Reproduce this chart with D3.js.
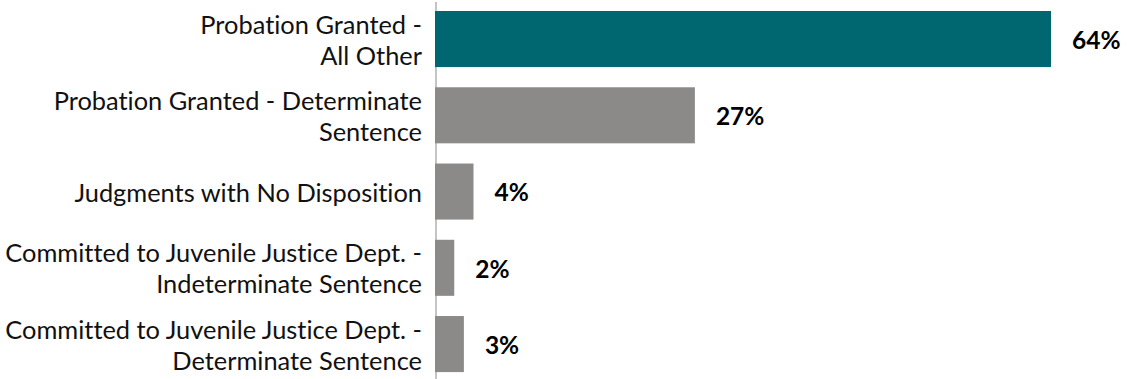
<!DOCTYPE html>
<html>
<head>
<meta charset="utf-8">
<script src="https://cdn.jsdelivr.net/npm/d3@7"></script>
<style>
  html, body { margin: 0; padding: 0; background: #ffffff; }
  svg { display: block; }
  text { font-variant-ligatures: none; font-feature-settings: "liga" 0, "clig" 0, "dlig" 0; }
</style>
</head>
<body>
<svg id="chart" width="1127" height="379"></svg>
<script>
const categories = [
  ["Probation Granted -", "All Other"],
  ["Probation Granted - Determinate", "Sentence"],
  ["Judgments with No Disposition"],
  ["Committed to Juvenile Justice Dept. -", "Indeterminate Sentence"],
  ["Committed to Juvenile Justice Dept. -", "Determinate Sentence"]
];
const values = [64, 27, 4, 2, 3];
const valueLabels = ["64%", "27%", "4%", "2%", "3%"];
const barColors = ["#006670", "#8c8989", "#8c8989", "#8c8989", "#8c8989"];

const width = 1127, height = 379;
const x0 = 435;
const svg = d3.select("#chart");

const x = d3.scaleLinear().domain([0, 64]).range([x0, 1051]);
const y = d3.scaleBand()
  .domain(d3.range(values.length))
  .range([-9.2, 392.3])
  .padding(0.265);

// axis line
svg.append("line")
  .attr("x1", x0 + 1).attr("x2", x0 + 1)
  .attr("y1", 2).attr("y2", height)
  .attr("stroke", "#c4c4c4").attr("stroke-width", 2);

svg.selectAll("rect.bar")
  .data(values)
  .join("rect")
  .attr("class", "bar")
  .attr("x", x(0))
  .attr("y", (d, i) => y(i))
  .attr("width", d => x(d) - x(0))
  .attr("height", y.bandwidth())
  .attr("fill", (d, i) => barColors[i]);

const fontFamily = "Lato, 'Open Sans', sans-serif";
const lineH = 31;

const labels = svg.selectAll("text.cat")
  .data(categories)
  .join("text")
  .attr("class", "cat")
  .attr("text-anchor", "end")
  .attr("font-family", fontFamily)
  .attr("font-size", 25.4)
  .attr("fill", "#111111");

labels.each(function(lines, i) {
  const cy = y(i) + y.bandwidth() / 2;
  const n = lines.length;
  d3.select(this).selectAll("tspan")
    .data(lines)
    .join("tspan")
    .attr("x", 422)
    .attr("y", (l, j) => cy + 1 + (j - (n - 1) / 2) * lineH)
    .attr("dy", "0.36em")
    .text(l => l);
});

svg.selectAll("text.val")
  .data(values)
  .join("text")
  .attr("class", "val")
  .attr("x", d => x(d) + 21)
  .attr("y", (d, i) => y(i) + y.bandwidth() / 2)
  .attr("dy", "0.4em")
  .attr("font-family", fontFamily)
  .attr("font-weight", "bold")
  .attr("font-size", 24.5)
  .attr("fill", "#000000")
  .text((d, i) => valueLabels[i]);
</script>
</body>
</html>
